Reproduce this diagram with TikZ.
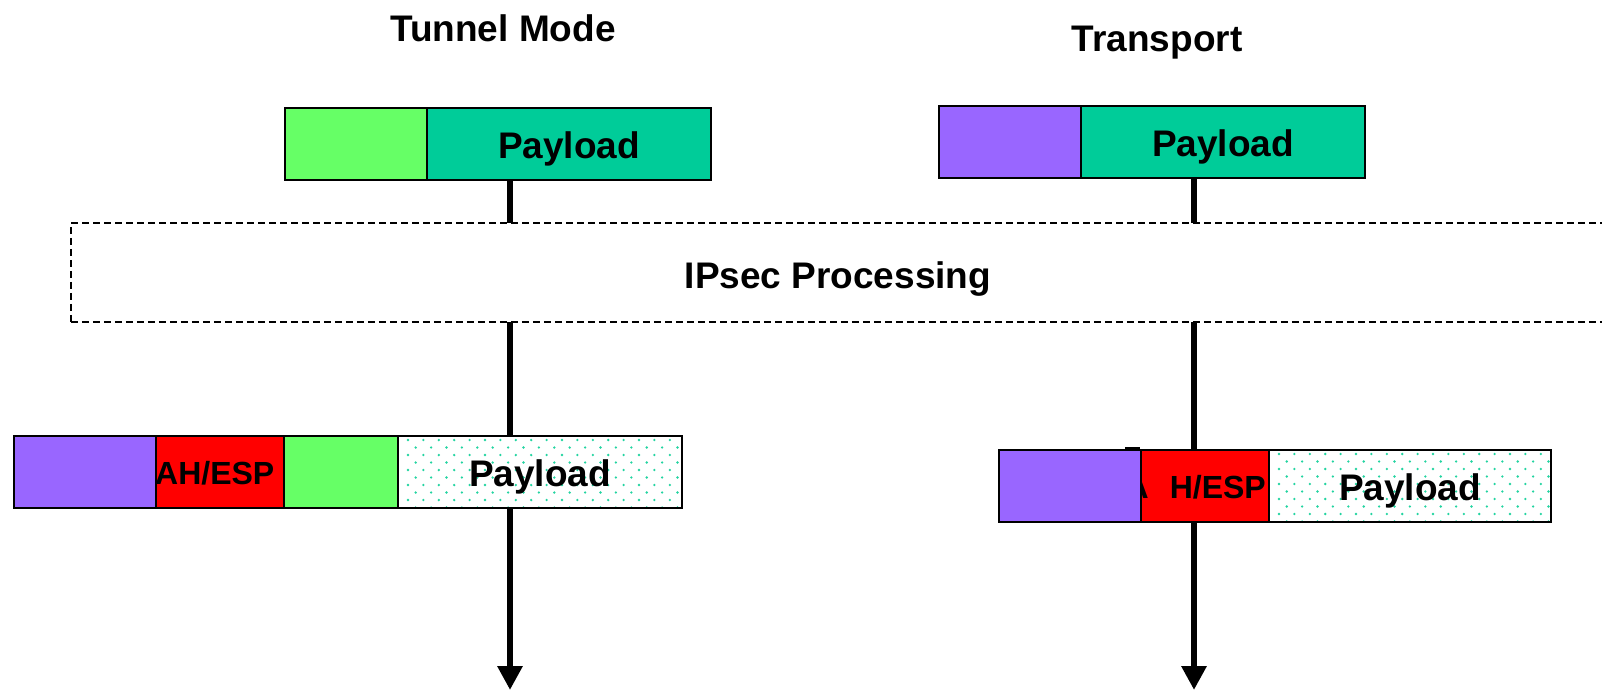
\documentclass[tikz,border=0pt]{standalone}
\usepackage{fontspec}
\setmainfont{Liberation Sans}
\usetikzlibrary{arrows.meta,calc}
\definecolor{lgreen}{HTML}{66FF66}
\definecolor{teal2}{HTML}{00CC99}
\definecolor{purp}{HTML}{9966FF}
\definecolor{dotc}{HTML}{22D4A0}
\begin{document}
\begin{tikzpicture}[x=1pt,y=-1pt,
  cell/.style={draw=black, line width=2pt, minimum height=72pt, anchor=north west, inner sep=0pt},
  lbl/.style={font=\fontsize{37}{44}\selectfont\bfseries, inner sep=0pt},
  plbl/.style={lbl, text depth=0pt, yshift=-1pt},
  small/.style={font=\fontsize{32}{38}\selectfont\bfseries, inner sep=0pt},
  flow/.style={line width=6.5pt, -{Triangle[width=24pt,length=24pt]}},
  proc/.style={draw=black, line width=1.6pt, dash pattern=on 7pt off 4pt, fill=white, anchor=north west, inner sep=0pt},
  dotcell/.style={fill=white, path picture={
    \foreach \r in {0,...,9}{\foreach \c in {0,...,19}{
      \fill[dotc] ($(path picture bounding box.north west)+({10+\c*15.4+mod(\r,2)*7.7},{4+\r*7.5})$) circle[radius=1.3pt];
    }}}}]
\useasboundingbox (0,0) rectangle (1602,691);

% titles
\node[lbl] (t1) at (503,28) {Tunnel Mode};
\node[lbl] (t2) at (1157,43) {Transport};

% top packets
\node[cell, fill=lgreen, minimum width=142pt] (g1) at (284,107) {};
\node[cell, fill=teal2, minimum width=284pt] (p1) at (426,107) {};
\node[plbl] (p1l) at (p1.center) {Payload};
\node[cell, fill=purp, minimum width=142pt] (h2) at (938,105) {};
\node[cell, fill=teal2, minimum width=284pt] (p2) at (1080,105) {};
\node[plbl] (p2l) at (p2.center) {Payload};

% arrows
\coordinate (e1) at (510,690);
\coordinate (e2) at (1194,690);
\draw[flow] (p1.south -| e1) -- (e1);
\draw[flow] (p2.south -| e2) -- (e2);

% IPsec processing box
\node[proc, minimum width=1560pt, minimum height=99pt] (ip) at (70,222) {};
\node[plbl] (ipl) at (838,274) {IPsec Processing};

% lower-left packet (tunnel)
\node[cell, fill=purp, minimum width=142pt] (h3) at (13,435) {};
\node[cell, fill=red, minimum width=128pt] (s3) at (155,435) {};
\node[small, anchor=west] (s3l) at ([yshift=-1pt]s3.west) {AH/ESP};
\node[cell, fill=lgreen, minimum width=114pt] (g3) at (283,435) {};
\node[cell, dotcell, minimum width=284pt] (d3) at (397,435) {};
\node[plbl] (d3l) at (d3.center) {Payload};

% lower-right packet (transport)
\node[cell, fill=red, minimum width=128pt] (s4) at (1140,449) {};
\node[small, anchor=east] (s4a) at (1149,487) {A};
\node[cell, fill=purp, minimum width=142pt] (h4) at (998,449) {};
\draw[line width=2pt] (1125,447.5) -- (1140,447.5);
\node[small, anchor=east] (s4l) at (1266,487) {H/ESP};
\node[cell, dotcell, minimum width=282pt] (d4) at (1268,449) {};
\node[plbl] (d4l) at (d4.center) {Payload};
\end{tikzpicture}
\end{document}
